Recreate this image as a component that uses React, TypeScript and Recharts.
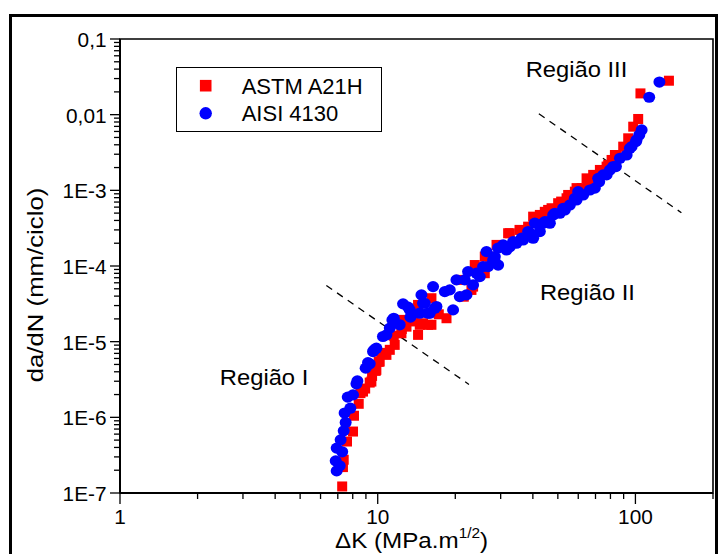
import React from 'react';
import {
  ScatterChart,
  Scatter,
  XAxis,
  YAxis,
  ReferenceLine,
  ReferenceArea,
  ReferenceDot,
  Legend,
  Label,
} from 'recharts';

const FONT = '"Liberation Sans", Arial, Helvetica, sans-serif';

// ---- data (ΔK in MPa.m^1/2, da/dN in mm/ciclo) ----
const astmDeltaK = [
  7.28, 7.33, 7.38, 7.6, 8.02, 8.09, 8.44, 8.57, 8.77, 8.94, 9.31, 9.45, 9.51, 9.82, 9.88, 10.09, 10.18,
  10.33, 10.81, 11.14, 11.54, 11.64, 12.36, 12.4, 12.54, 12.93, 13.77, 14.13, 14.34, 14.34, 14.56, 14.99,
  15.68, 16.16, 16.16, 17.26, 18.49, 20.82, 21.58, 23.11, 23.45, 23.8, 26.03, 26.03, 27.23, 28.91, 32.07,
  32.56, 35.5, 38.34, 40.1, 42.57, 44.5, 45.85, 47.27, 50.14, 51.5, 54.05, 54.83, 58.21, 59.1, 61.81,
  64.63, 65.56, 68.56, 69.61, 72.8, 73.91, 77.3, 78.42, 80.83, 83.25, 84.53, 89.67, 93.76, 98.06, 102.5,
  104.6, 134.9,
];
const astmRate = [
  1.22e-7, 2.2e-7, 2.75e-7, 4.79e-7, 6.49e-7, 1.05e-6, 1.51e-6, 2.09e-6, 2.19e-6, 2.4e-6, 2.88e-6, 2.97e-6,
  3.53e-6, 4.11e-6, 4.24e-6, 5.41e-6, 5.46e-6, 7.11e-6, 6.69e-6, 7.8e-6, 1.2e-5, 9.07e-6, 1.29e-5, 1.47e-5,
  1.94e-5, 1.58e-5, 1.85e-5, 2.63e-5, 1.23e-5, 3.06e-5, 1.67e-5, 1.75e-5, 1.67e-5, 3.75e-5, 1.67e-5, 2.3e-5,
  2.04e-5, 6.55e-5, 3.93e-5, 4.83e-5, 5.34e-5, 1.03e-4, 8.03e-5, 1.33e-4, 1.33e-4, 1.9e-4, 2.71e-4, 2.71e-4,
  3.0e-4, 3.31e-4, 4.49e-4, 4.73e-4, 5.2e-4, 5.51e-4, 5.8e-4, 6.76e-4, 7.1e-4, 7.86e-4, 8.69e-4, 9.61e-4,
  1.07e-3, 1.07e-3, 1.44e-3, 1.3e-3, 1.6e-3, 1.44e-3, 1.86e-3, 1.77e-3, 2.06e-3, 2.17e-3, 2.52e-3, 2.93e-3,
  2.93e-3, 3.78e-3, 4.87e-3, 6.94e-3, 8.77e-3, 0.0191, 0.0281,
];
const aisiDeltaK = [
  6.87, 6.93, 6.93, 7.12, 7.18, 7.28, 7.38, 7.44, 7.51, 7.65, 7.83, 8.02, 8.27, 8.34, 8.98, 9.17, 9.31,
  9.59, 9.7, 9.88, 10.48, 10.81, 11.14, 11.4, 11.54, 12.17, 12.54, 13.12, 13.32, 13.4, 14.56, 14.78, 14.99,
  15.22, 15.68, 15.92, 16.4, 16.65, 16.9, 18.21, 19.04, 19.61, 20.21, 20.82, 21.77, 22.1, 22.42, 23.45,
  24.17, 24.89, 25.64, 26.43, 26.81, 28.04, 28.47, 28.47, 29.33, 29.33, 30.66, 31.61, 32.56, 33.53, 34.56,
  36.15, 36.67, 38.34, 38.93, 40.1, 40.71, 42.57, 43.85, 44.52, 45.85, 46.56, 47.96, 48.69, 50.91, 52.43,
  53.23, 55.67, 58.21, 59.1, 59.96, 62.7, 66.57, 69.61, 71.7, 72.34, 74.99, 77.3, 79.61, 81.99, 84.0,
  87.07, 92.44, 95.2, 96.65, 100.45, 101.0, 103.5, 105.7, 113.1, 123.9,
];
const aisiRate = [
  2.66e-7, 1.96e-7, 3.92e-7, 2.29e-7, 5.04e-7, 3.5e-7, 6.63e-7, 1.14e-6, 8.54e-7, 1.85e-6, 1.32e-6, 1.98e-6,
  2.77e-6, 3.03e-6, 4.47e-6, 5.29e-6, 5.1e-6, 7.4e-6, 7.8e-6, 8.2e-6, 1.17e-5, 1.23e-5, 1.51e-5, 1.94e-5,
  2.04e-5, 1.67e-5, 3.16e-5, 2.86e-5, 2.63e-5, 2.11e-5, 2.38e-5, 4.15e-5, 3.22e-5, 3.22e-5, 2.38e-5, 2.38e-5,
  5.34e-5, 2.77e-5, 2.91e-5, 4.59e-5, 4.83e-5, 2.63e-5, 6.55e-5, 3.94e-5, 6.55e-5, 4.15e-5, 8.43e-5, 5.63e-5,
  8.03e-5, 7.24e-5, 9.82e-5, 1.55e-4, 9.82e-5, 1.2e-4, 1.33e-4, 1.14e-4, 1.73e-4, 1.03e-4, 1.9e-4, 1.63e-4,
  1.8e-4, 2.1e-4, 2.0e-4, 2.33e-4, 2.21e-4, 2.85e-4, 2.71e-4, 2.33e-4, 3.68e-4, 2.85e-4, 3.68e-4, 3.86e-4,
  3.86e-4, 3.68e-4, 4.73e-4, 4.98e-4, 4.98e-4, 5.8e-4, 5.51e-4, 6.41e-4, 7.86e-4, 7.46e-4, 9.61e-4, 8.69e-4,
  1.01e-3, 1.07e-3, 1.44e-3, 1.3e-3, 1.6e-3, 1.6e-3, 1.86e-3, 2.06e-3, 2.06e-3, 2.65e-3, 2.93e-3, 3.6e-3,
  3.78e-3, 4.4e-3, 4.63e-3, 5.39e-3, 6.28e-3, 0.017, 0.027,
];

const seriesNames = ['ASTM A21H', 'AISI 4130'];
const seriesColors = ['#ff0000', '#0000ff'];

// ---- axes ----
const xDomain = [1, 200];
const yDomain = [1e-7, 0.1];
const xMajorTicks = [1, 10, 100];
const xTickLabels = ['1', '10', '100'];
const yMajorTicks = [1e-7, 1e-6, 1e-5, 1e-4, 1e-3, 1e-2, 1e-1];
const yTickLabels = ['1E-7', '1E-6', '1E-5', '1E-4', '1E-3', '0,01', '0,1'];

// ---- annotations ----
const regionLabels = ['Região I', 'Região II', 'Região III'];
const regionK = [2.44, 42.6, 37.5];
const regionRate = [2.68e-6, 3.56e-5, 0.0315];
const boundaryStartK = [6.32, 42.2];
const boundaryStartRate = [5.53e-5, 0.01027];
const boundaryEndK = [22.6, 150.8];
const boundaryEndRate = [2.72e-6, 5.06e-4];

function withMinors(majors: number[], max: number) {
  const out: number[] = [];
  majors.forEach((m) => {
    for (let k = 1; k <= 9; k++) {
      const v = parseFloat((m * k).toPrecision(6));
      if (v <= max * 1.0000001) out.push(v);
    }
  });
  if (!out.includes(max)) out.push(max);
  return out;
}

const xTicks = withMinors(xMajorTicks, xDomain[1]);
const yTicks = withMinors(yMajorTicks.slice(0, -1), yDomain[1]);

const astmData = astmDeltaK.map((k, i) => ({ x: k, y: astmRate[i] }));
const aisiData = aisiDeltaK.map((k, i) => ({ x: k, y: aisiRate[i] }));

function majorIndex(list: number[], v: number) {
  return list.findIndex((t) => Math.abs(Math.log10(t) - Math.log10(v)) < 1e-6);
}

const XTick = (props: any) => {
  const { x, y, payload } = props;
  const idx = majorIndex(xMajorTicks, payload.value);
  const major = idx >= 0;
  return (
    <g>
      <line x1={x} x2={x} y1={y} y2={y + (major ? 11 : 6)} stroke="#000" strokeWidth={1.3} />
      {major && (
        <text
          transform={`translate(${x},${y + 31}) scale(1.04,1)`}
          textAnchor="middle"
          fontSize={20}
          fontFamily={FONT}
          fill="#000"
        >
          {xTickLabels[idx]}
        </text>
      )}
    </g>
  );
};

const YTick = (props: any) => {
  const { x, y, payload } = props;
  const idx = majorIndex(yMajorTicks, payload.value);
  const major = idx >= 0;
  return (
    <g>
      <line x1={x} x2={x - (major ? 10 : 6)} y1={y} y2={y} stroke="#000" strokeWidth={1.3} />
      {major && (
        <text
          transform={`translate(${x - 13.5},${y + 8}) scale(1.04,1)`}
          textAnchor="end"
          fontSize={20}
          fontFamily={FONT}
          fill="#000"
        >
          {yTickLabels[idx]}
        </text>
      )}
    </g>
  );
};

const SquareShape = (p: any) => (
  <rect x={p.cx - 5} y={p.cy - 5} width={10} height={10} fill={seriesColors[0]} />
);
const CircleShape = (p: any) => <ellipse cx={p.cx} cy={p.cy} rx={6} ry={5.6} fill={seriesColors[1]} />;

const renderLegend = () => (
  <div
    style={{
      boxSizing: 'border-box',
      width: 206,
      height: 65,
      border: '1px solid #000',
      background: '#fff',
    }}
  >
    <svg width={204} height={63} style={{ display: 'block' }}>
      <rect x={28.7 - 5.8} y={17.7 - 5.8} width={11.6} height={11.6} fill={seriesColors[0]} />
      <circle cx={28.7} cy={45.3} r={6.2} fill={seriesColors[1]} />
      <text x={64.7} y={25.7} fontSize={22} fontFamily={FONT} fill="#000">
        {seriesNames[0]}
      </text>
      <text x={64.7} y={53.3} fontSize={22} fontFamily={FONT} fill="#000">
        {seriesNames[1]}
      </text>
    </svg>
  </div>
);

const regionShape = (i: number) => (p: any) => (
  <text
    transform={`translate(${p.cx},${p.cy}) scale(1.08,1)`}
    fontSize={22}
    fontFamily={FONT}
    fill="#000"
  >
    {regionLabels[i]}
  </text>
);

export default function App() {
  return (
    <div
      style={{
        position: 'absolute',
        left: 0,
        top: 0,
        width: 721,
        height: 554,
        overflow: 'hidden',
        background: '#fff',
      }}
    >
      <div
        style={{
          position: 'absolute',
          left: 9,
          top: 14,
          width: 709,
          height: 600,
          boxSizing: 'border-box',
          border: '3px solid #000',
        }}
      />
      <div style={{ position: 'absolute', left: 0, top: 0 }}>
        <ScatterChart width={721} height={554} margin={{ top: 39, right: 8, bottom: 0, left: 0 }}>
          <XAxis
            dataKey="x"
            type="number"
            scale="log"
            domain={xDomain}
            allowDataOverflow
            ticks={xTicks}
            interval={0}
            tick={<XTick />}
            tickLine={false}
            tickSize={0}
            tickMargin={0}
            axisLine={{ stroke: '#000', strokeWidth: 2 }}
            height={61}
          >
            <Label
              content={() => (
                <text
                  transform="translate(335,548) scale(1.1,1)"
                  fontSize={22}
                  fontFamily={FONT}
                  fill="#000"
                >
                  ΔK (MPa.m
                  <tspan fontSize={14} dy={-10}>
                    1/2
                  </tspan>
                  <tspan fontSize={22} dy={10}>
                    )
                  </tspan>
                </text>
              )}
            />
          </XAxis>
          <YAxis
            dataKey="y"
            type="number"
            scale="log"
            domain={yDomain}
            allowDataOverflow
            ticks={yTicks}
            interval={0}
            tick={<YTick />}
            tickLine={false}
            tickSize={0}
            tickMargin={0}
            axisLine={{ stroke: '#000', strokeWidth: 2 }}
            width={120}
          >
            <Label
              content={() => (
                <text
                  transform="translate(43,285) rotate(-90) scale(1.12,1)"
                  textAnchor="middle"
                  fontSize={23}
                  fontFamily={FONT}
                  fill="#000"
                >
                  da/dN (mm/ciclo)
                </text>
              )}
            />
          </YAxis>
          <ReferenceArea
            x1={xDomain[0]}
            x2={xDomain[1]}
            y1={yDomain[0]}
            y2={yDomain[1]}
            fill="none"
            fillOpacity={0}
            stroke="#000"
            strokeWidth={1.6}
            ifOverflow="visible"
          />
          {boundaryStartK.map((k, i) => (
            <ReferenceLine
              key={'b' + i}
              segment={[
                { x: k, y: boundaryStartRate[i] },
                { x: boundaryEndK[i], y: boundaryEndRate[i] },
              ]}
              stroke="#000"
              strokeWidth={1.3}
              strokeDasharray="7 6"
              ifOverflow="visible"
            />
          ))}
          {regionK.map((k, i) => (
            <ReferenceDot
              key={'r' + i}
              x={k}
              y={regionRate[i]}
              r={1}
              ifOverflow="visible"
              shape={regionShape(i)}
            />
          ))}
          <Scatter
            name={seriesNames[0]}
            data={astmData}
            fill={seriesColors[0]}
            shape={SquareShape}
            isAnimationActive={false}
          />
          <Scatter
            name={seriesNames[1]}
            data={aisiData}
            fill={seriesColors[1]}
            shape={CircleShape}
            isAnimationActive={false}
          />
          <Legend
            layout="vertical"
            align="center"
            verticalAlign="middle"
            wrapperStyle={{ left: 176, top: 67, width: 206, height: 65 }}
            content={renderLegend}
          />
        </ScatterChart>
      </div>
    </div>
  );
}
